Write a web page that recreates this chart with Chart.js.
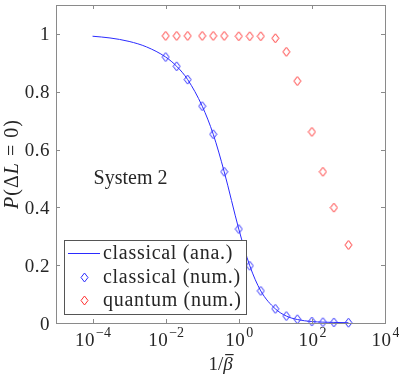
<!DOCTYPE html>
<html>
<head>
<meta charset="utf-8">
<script src="https://cdn.jsdelivr.net/npm/chart.js@4/dist/chart.umd.min.js"></script>
<style>
  html, body { margin: 0; padding: 0; background: #fff; }
  canvas { display: block; }
</style>
</head>
<body>
<canvas id="chart" width="399" height="376"></canvas>
<script>
// values
const xAna = [1e-4, 3e-4, 1e-3, 3e-3, 0.01, 0.02, 0.04, 0.1, 0.2, 0.4, 1, 2, 4, 10, 20, 40, 100, 200, 400, 1000];
const classicalAna = [0.992, 0.986, 0.974, 0.955, 0.920, 0.888, 0.842, 0.750, 0.653, 0.523, 0.325, 0.198, 0.111, 0.049, 0.024, 0.012, 0.005, 0.003, 0.002, 0.001];

const xNum = [0.01, 0.02, 0.04, 0.1, 0.2, 0.4, 1, 2, 4, 10, 20, 40, 100, 200, 400, 1000];
const classicalNum = [0.920, 0.888, 0.842, 0.750, 0.653, 0.523, 0.325, 0.198, 0.111, 0.049, 0.024, 0.013, 0.005, 0.003, 0.002, 0.001];
const quantumNum = [0.993, 0.993, 0.993, 0.993, 0.993, 0.993, 0.992, 0.992, 0.992, 0.985, 0.938, 0.837, 0.661, 0.523, 0.399, 0.270];

const xTicks = [1e-4, 1e-2, 1, 1e2, 1e4];
const xTickExp = ['\u22124', '\u22122', '0', '2', '4'];
const yTicks = [0, 0.2, 0.4, 0.6, 0.8, 1];
const yTickLabels = ['0', '0.2', '0.4', '0.6', '0.8', '1'];

const seriesNames = ['classical (ana.)', 'classical (num.)', 'quantum (num.)'];
const BLUE = '#2b2bff';
const RED = '#ff3030';
const AXIS = '#8a8a8a';
const TEXT = '#262626';
const SERIF = '"Liberation Serif", "DejaVu Serif", serif';

function diamond(color) {
    const c = document.createElement('canvas');
    c.width = 9; c.height = 11;
    const g = c.getContext('2d');
    g.strokeStyle = color;
    g.lineWidth = 1;
    g.beginPath();
    g.moveTo(4.5, 1); g.lineTo(8, 5.5); g.lineTo(4.5, 10); g.lineTo(1, 5.5); g.closePath();
    g.stroke();
    return c;
}
const blueDiamond = diamond(BLUE);
const redDiamond = diamond(RED);

const toPts = (xs, ys) => xs.map((x, i) => ({ x: x, y: ys[i] }));

function font(size, italic, spacing) {
    return { f: (italic ? 'italic ' : '') + size + 'px ' + SERIF, s: (spacing || 0) + 'px' };
}
function setFont(ctx, fo) { ctx.font = fo.f; ctx.letterSpacing = fo.s; }

const decor = {
    id: 'decor',
    afterDraw(chart) {
        const ctx = chart.ctx;
        const a = chart.chartArea;
        const xs = chart.scales.x, ys = chart.scales.y;
        ctx.save();
        // box
        ctx.strokeStyle = AXIS;
        ctx.lineWidth = 1;
        ctx.strokeRect(Math.round(a.left) + 0.5, Math.round(a.top) + 0.5, Math.round(a.right - a.left), Math.round(a.bottom - a.top));
        // inward ticks
        ctx.beginPath();
        xs.ticks.forEach(t => {
            const px = Math.round(xs.getPixelForValue(t.value)) + 0.5;
            ctx.moveTo(px, a.bottom); ctx.lineTo(px, a.bottom - 4);
            ctx.moveTo(px, a.top); ctx.lineTo(px, a.top + 4);
        });
        ys.ticks.forEach(t => {
            const py = Math.round(ys.getPixelForValue(t.value)) + 0.5;
            ctx.moveTo(a.left, py); ctx.lineTo(a.left + 4, py);
            ctx.moveTo(a.right, py); ctx.lineTo(a.right - 4, py);
        });
        ctx.stroke();

        ctx.fillStyle = TEXT;
        ctx.textBaseline = 'alphabetic';

        // y tick labels
        ctx.textAlign = 'right';
        setFont(ctx, font(19, false, 0.5));
        ys.ticks.forEach((t, i) => {
            ctx.fillText(yTickLabels[i], a.left - 6, ys.getPixelForValue(t.value) + 6.5);
        });

        // x tick labels 10^n
        ctx.textAlign = 'left';
        xs.ticks.forEach((t, i) => {
            const px = xs.getPixelForValue(t.value);
            setFont(ctx, font(19, false, 0.5));
            const wb = ctx.measureText('10').width;
            setFont(ctx, font(14, false, 0));
            const we = ctx.measureText(xTickExp[i]).width;
            const x0 = px - (wb + we) / 2;
            setFont(ctx, font(19, false, 0.5));
            ctx.fillText('10', x0, a.bottom + 23);
            setFont(ctx, font(14, false, 0));
            ctx.fillText(xTickExp[i], x0 + wb + 1, a.bottom + 14);
        });

        // x title 1/beta-bar
        const cx = (a.left + a.right) / 2;
        setFont(ctx, font(19, false, 0));
        const w1 = ctx.measureText('1/').width;
        setFont(ctx, font(19, true, 0));
        const w2 = ctx.measureText('\u03B2').width;
        let xx = cx - (w1 + w2) / 2;
        setFont(ctx, font(19, false, 0));
        ctx.fillText('1/', xx, a.bottom + 47);
        setFont(ctx, font(19, true, 0));
        ctx.fillText('\u03B2', xx + w1, a.bottom + 47);
        ctx.fillRect(xx + w1 + 2, a.bottom + 31, w2 - 1, 1.2);

        // y title P(ΔL = 0)
        ctx.save();
        ctx.translate(18, (a.top + a.bottom) / 2);
        ctx.rotate(-Math.PI / 2);
        const parts = [['P', true], ['(\u0394', false], ['L', true], [' = 0)', false]];
        let tot = 0;
        parts.forEach(p => { setFont(ctx, font(20, p[1], 1)); tot += ctx.measureText(p[0]).width; });
        let yy = -tot / 2;
        parts.forEach(p => {
            setFont(ctx, font(20, p[1], 1));
            ctx.fillText(p[0], yy, 0);
            yy += ctx.measureText(p[0]).width;
        });
        ctx.restore();

        // annotation
        setFont(ctx, font(20, false, 0));
        ctx.fillText('System 2', xs.getPixelForValue(1e-4) + 1, ys.getPixelForValue(0.48));

        // legend
        const lx = a.left + 8, ly = a.bottom - 83, lw = 182, lh = 74;
        ctx.fillStyle = '#fff';
        ctx.fillRect(lx, ly, lw, lh);
        ctx.strokeStyle = '#555';
        ctx.strokeRect(lx + 0.5, ly + 0.5, lw, lh);
        const rowY = [ly + 13, ly + 37, ly + 60];
        ctx.strokeStyle = BLUE;
        ctx.beginPath();
        ctx.moveTo(lx + 4, rowY[0] + 0.5); ctx.lineTo(lx + 36, rowY[0] + 0.5);
        ctx.stroke();
        ctx.drawImage(blueDiamond, lx + 16, rowY[1] - 5);
        ctx.drawImage(redDiamond, lx + 16, rowY[2] - 5);
        ctx.fillStyle = TEXT;
        ctx.textBaseline = 'middle';
        setFont(ctx, font(20, false, 0.7));
        seriesNames.forEach((n, i) => ctx.fillText(n, lx + 39, rowY[i] + 1));
        ctx.restore();
    }
};

new Chart(document.getElementById('chart'), {
    type: 'scatter',
    data: {
        datasets: [
            {
                label: seriesNames[0],
                data: toPts(xAna, classicalAna),
                showLine: true,
                borderColor: BLUE,
                borderWidth: 1,
                pointRadius: 0,
                cubicInterpolationMode: 'monotone',
                clip: false
            },
            {
                label: seriesNames[1],
                data: toPts(xNum, classicalNum),
                showLine: false,
                pointStyle: blueDiamond,
                clip: false
            },
            {
                label: seriesNames[2],
                data: toPts(xNum, quantumNum),
                showLine: false,
                pointStyle: redDiamond,
                clip: false
            }
        ]
    },
    options: {
        responsive: false,
        animation: false,
        devicePixelRatio: 1,
        layout: { padding: { top: 1, right: 14, left: 0, bottom: 0 } },
        plugins: { legend: { display: false }, tooltip: { enabled: false } },
        scales: {
            x: {
                type: 'logarithmic',
                min: 1e-5,
                max: 1e4,
                afterBuildTicks: s => { s.ticks = xTicks.map(v => ({ value: v })); },
                afterFit: s => { s.height = 53; },
                ticks: { display: false },
                grid: { display: false },
                border: { display: false }
            },
            y: {
                type: 'linear',
                min: 0,
                max: 1.1,
                afterBuildTicks: s => { s.ticks = yTicks.map(v => ({ value: v })); },
                afterFit: s => { s.width = 56; },
                ticks: { display: false },
                grid: { display: false },
                border: { display: false }
            }
        }
    },
    plugins: [decor]
});
</script>
</body>
</html>
